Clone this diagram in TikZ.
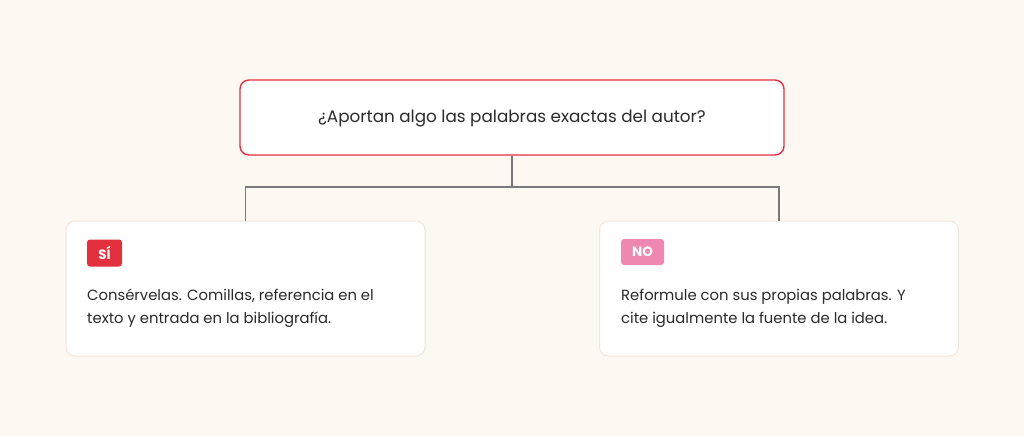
\documentclass[tikz,border=0pt]{standalone}
\usepackage{fontspec}
\setmainfont{Poppins}
\definecolor{bgc}{HTML}{FEF8F2}
\definecolor{redc}{HTML}{E3303F}
\definecolor{pinkc}{HTML}{EE88B0}
\definecolor{cardedge}{HTML}{F3E6DA}
\definecolor{linec}{HTML}{7A7A7A}
\definecolor{txt}{HTML}{2A2A2A}
\begin{document}
\begin{tikzpicture}[x=1pt,y=1pt,
  question/.style={draw=redc,line width=1.4pt,fill=white,rounded corners=9pt,minimum width=544pt,minimum height=75pt,inner sep=0pt,text=txt},
  qtext/.style={inner sep=0pt,font=\fontsize{16.8}{20}\selectfont,text=txt},
  card/.style={draw=cardedge,line width=1pt,fill=white,rounded corners=9pt,minimum width=359pt,minimum height=135pt,inner sep=0pt},
  badge/.style={rounded corners=3pt,text=white,font=\bfseries\fontsize{13.5}{15}\selectfont,inner sep=0pt,minimum height=27pt},
  body/.style={anchor=north west,inner sep=0pt,align=left,text=txt,font=\fontsize{14.8}{22.5}\selectfont},
  conn/.style={draw=linec,line width=1.3pt}]
\fill[bgc] (0,0) rectangle (1024,-436);
\useasboundingbox (0,0) rectangle (1024,-436);
\node[question] (q) at (512,-117.5) {};
\node[qtext] (qt) at (512,-119) {¿Aportan algo las palabras exactas del autor?};
\node[card] (l) at (245.5,-288.5) {};
\node[card] (r) at (779,-288.5) {};
\coordinate (mid) at (512,-187);
\draw[conn] (q.south) -- (mid) -| (l.north);
\draw[conn] (mid) -| (r.north);
\node[badge,fill=redc,minimum width=35pt] (si) at (104.5,-253) {SÍ};
\node[badge,fill=pinkc,minimum width=43pt,minimum height=26pt] (no) at (642.5,-252) {NO};
\node[body] (lt) at (87,-289) {Consérvelas. Comillas, referencia en el\\texto y entrada en la bibliografía.};
\node[body] (rt) at (621,-289) {Reformule con sus propias palabras. Y\\cite igualmente la fuente de la idea.};
\end{tikzpicture}
\end{document}
